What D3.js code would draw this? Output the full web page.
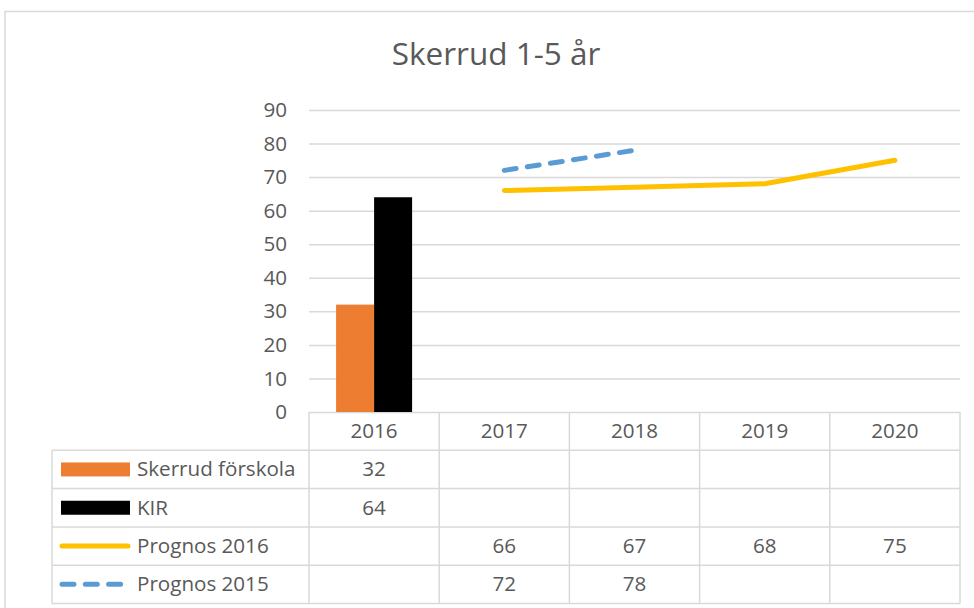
<!DOCTYPE html>
<html>
<head>
<meta charset="utf-8">
<script src="https://cdn.jsdelivr.net/npm/d3@7"></script>
<style>
  body { margin: 0; background: #fff; }
  svg { display: block; font-family: "Open Sans", sans-serif; }
</style>
</head>
<body>
<script>
const years = ["2016", "2017", "2018", "2019", "2020"]
const skerrudForskola = [32, null, null, null, null]
const kir = [64, null, null, null, null]
const prognos2016 = [null, 66, 67, 68, 75]
const prognos2015 = [null, 72, 78, null, null]
const yTicks = [0, 10, 20, 30, 40, 50, 60, 70, 80, 90]

const series = [
    { name: "Skerrud förskola", values: skerrudForskola, type: "bar", color: "#ED7D31" },
    { name: "KIR", values: kir, type: "bar", color: "#000000" },
    { name: "Prognos 2016", values: prognos2016, type: "line", color: "#FFC000" },
    { name: "Prognos 2015", values: prognos2015, type: "line", color: "#5B9BD5", dash: "12 11.3" }
]

const width = 974
const height = 608
const plotLeft = 309
const plotRight = 960
const plotTop = 110
const plotBottom = 412
const rowH = 38.3
const tableLeft = 52
const textColor = "#595959"
const gridColor = "#D9D9D9"
const fontSize = "20.6px"

const svg = d3.select("body").append("svg")
    .attr("width", width)
    .attr("height", height)

// chart border
svg.append("rect")
    .attr("x", 5).attr("y", 11.5)
    .attr("width", 1000).attr("height", 700)
    .attr("fill", "none")
    .attr("stroke", gridColor)
    .attr("stroke-width", 1.5)

svg.append("text")
    .attr("x", 496)
    .attr("y", 65)
    .attr("text-anchor", "middle")
    .attr("fill", textColor)
    .style("font-size", "31.5px")
    .text("Skerrud 1-5 år")

const x = d3.scaleBand().domain(years).range([plotLeft, plotRight])
const y = d3.scaleLinear().domain([0, 90]).range([plotBottom, plotTop])

const barSeries = series.filter(s => s.type === "bar")
const x1 = d3.scaleBand().domain(barSeries.map(s => s.name))
    .range([0, 76])

// gridlines + y labels
const yAxis = d3.axisLeft(y).tickValues(yTicks).tickSize(-(plotRight - plotLeft)).tickPadding(22)
svg.append("g")
    .attr("transform", `translate(${plotLeft},0)`)
    .call(yAxis)
    .call(g => g.select(".domain").remove())
    .call(g => g.selectAll(".tick line").attr("stroke", gridColor).attr("stroke-width", 1.5))
    .call(g => g.selectAll(".tick text")
        .attr("fill", textColor)
        .style("font-size", fontSize)
        .style("font-family", "Open Sans, sans-serif"))

// bars
barSeries.forEach(s => {
    svg.append("g").selectAll("rect")
        .data(years.map((yr, i) => ({ yr, v: s.values[i] })).filter(d => d.v != null))
        .join("rect")
        .attr("x", d => x(d.yr) + (x.bandwidth() - 76) / 2 + x1(s.name))
        .attr("width", x1.bandwidth())
        .attr("y", d => y(d.v))
        .attr("height", d => y(0) - y(d.v))
        .attr("fill", s.color)
})

// lines
const line = d3.line()
    .defined(d => d.v != null)
    .x(d => x(d.yr) + x.bandwidth() / 2)
    .y(d => y(d.v))

series.filter(s => s.type === "line").forEach(s => {
    svg.append("path")
        .datum(years.map((yr, i) => ({ yr, v: s.values[i] })))
        .attr("d", line)
        .attr("fill", "none")
        .attr("stroke", s.color)
        .attr("stroke-width", 5)
        .attr("stroke-linecap", "round")
        .attr("stroke-linejoin", "round")
        .attr("stroke-dasharray", s.dash || null)
})

// data table
const table = svg.append("g")
const tableBottom = plotBottom + rowH * (series.length + 1)
const hLine = (x0, x2, yy) => table.append("line")
    .attr("x1", x0).attr("x2", x2).attr("y1", yy).attr("y2", yy)
    .attr("stroke", gridColor).attr("stroke-width", 1.5)
const vLine = (xx, y0, y2) => table.append("line")
    .attr("x1", xx).attr("x2", xx).attr("y1", y0).attr("y2", y2)
    .attr("stroke", gridColor).attr("stroke-width", 1.5)

for (let r = 1; r <= series.length + 1; r++) {
    hLine(tableLeft, plotRight, plotBottom + rowH * r)
}
vLine(tableLeft, plotBottom + rowH, tableBottom)
years.forEach(yr => vLine(x(yr), plotBottom, tableBottom))
vLine(plotRight, plotBottom, tableBottom)

table.selectAll(".hdr")
    .data(years)
    .join("text")
    .attr("x", d => x(d) + x.bandwidth() / 2)
    .attr("y", plotBottom + rowH / 2 + 7)
    .attr("text-anchor", "middle")
    .attr("fill", textColor)
    .style("font-size", fontSize)
    .text(d => d)

series.forEach((s, r) => {
    const cy = plotBottom + rowH * (r + 1) + rowH / 2
    if (s.type === "bar") {
        table.append("rect")
            .attr("x", 61).attr("y", cy - 7)
            .attr("width", 69).attr("height", 14)
            .attr("fill", s.color)
    } else {
        table.append("line")
            .attr("x1", 62).attr("x2", 128)
            .attr("y1", cy).attr("y2", cy)
            .attr("stroke", s.color)
            .attr("stroke-width", 5)
            .attr("stroke-linecap", "round")
            .attr("stroke-dasharray", s.dash || null)
    }
    table.append("text")
        .attr("x", 137)
        .attr("y", cy + 7)
        .attr("fill", textColor)
        .style("font-size", fontSize)
        .text(s.name)
    table.append("g").selectAll("text")
        .data(years.map((yr, i) => ({ yr, v: s.values[i] })).filter(d => d.v != null))
        .join("text")
        .attr("x", d => x(d.yr) + x.bandwidth() / 2)
        .attr("y", cy + 7)
        .attr("text-anchor", "middle")
        .attr("fill", textColor)
        .style("font-size", fontSize)
        .text(d => d.v)
})
</script>
</body>
</html>
